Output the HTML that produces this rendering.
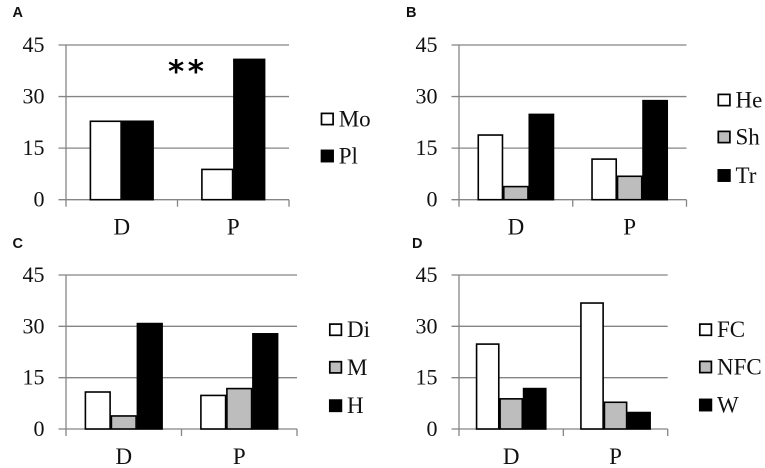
<!DOCTYPE html>
<html>
<head>
<meta charset="utf-8">
<title>Grouped bar charts</title>
<style>
html,body{margin:0;padding:0;background:#fff;}
svg{display:block;}
text{font-family:"Liberation Serif",serif;fill:#111;}
.panel-label{font-family:"Liberation Sans",sans-serif;font-weight:700;font-size:14.5px;}
.tick{font-size:22px;}
.cat{font-size:23px;}
.legend{font-size:23px;}
</style>
</head>
<body>
<svg id="chart" width="765" height="468" viewBox="0 0 765 468" xmlns="http://www.w3.org/2000/svg"></svg>
<script>
const categories = ['D', 'P'];
const yTicks = [0, 15, 30, 45];
const yMax = 45;

const seriesNamesA = ['Mo', 'Pl'];
const seriesValuesA = [[23, 9], [23, 41]];
const seriesColorsA = ['#fff', '#000'];

const seriesNamesB = ['He', 'Sh', 'Tr'];
const seriesValuesB = [[19, 12], [4, 7], [25, 29]];

const seriesNamesC = ['Di', 'M', 'H'];
const seriesValuesC = [[11, 10], [4, 12], [31, 28]];

const seriesNamesD = ['FC', 'NFC', 'W'];
const seriesValuesD = [[25, 37], [9, 8], [12, 5]];

const threeColors = ['#fff', '#bdbdbd', '#000'];

const svg = document.getElementById('chart');
const NS = 'http://www.w3.org/2000/svg';

function make(tag, attrs, text) {
  const el = document.createElementNS(NS, tag);
  for (const k in attrs) el.setAttribute(k, attrs[k]);
  if (text !== undefined) el.textContent = text;
  return el;
}

function drawPanel(p) {
  const g = make('g', {});
  
  
  svg.appendChild(g);

  const yScale = v => p.y0 + (p.yTop - p.y0) * v / yMax;
  const band = (p.right - p.left) / categories.length;
  const xCenter = i => p.left + band * (i + 0.5);

  const title = make('text', { x: p.titleX, y: p.titleY, class: 'panel-label' }, p.label);
  
  
  g.appendChild(title);

  yTicks.forEach(t => {
    const y = yScale(t);
    const line = make('line', { x1: p.left - 7.5, x2: p.right, y1: y, y2: y, stroke: '#858585', 'stroke-width': 1.3 });
    
    
    g.appendChild(line);

    const lab = make('text', { x: p.left - 21.5, y: y + 7, 'text-anchor': 'end', class: 'tick' }, String(t));
    
    
    g.appendChild(lab);
  });

  const yAxis = make('line', { x1: p.left, x2: p.left, y1: yScale(yMax), y2: p.y0 + 7, stroke: '#858585', 'stroke-width': 1.3 });
  
  
  g.appendChild(yAxis);

  for (let i = 1; i <= categories.length; i++) {
    const x = p.left + band * i;
    const tick = make('line', { x1: x, x2: x, y1: p.y0, y2: p.y0 + 7, stroke: '#858585', 'stroke-width': 1.3 });
    
    
    g.appendChild(tick);
  }

  categories.forEach((c, i) => {
    const lab = make('text', { x: xCenter(i), y: p.y0 + 35, 'text-anchor': 'middle', class: 'cat' }, c);
    
    
    g.appendChild(lab);

    const n = p.values.length;
    p.values.forEach((vals, s) => {
      const x = xCenter(i) - n * p.barW / 2 + s * p.barW;
      const y = yScale(vals[i]);
      const inset = 0.65;
      const bar = make('rect', {
        x: x + inset, y: y + inset,
        width: p.barW - inset * 2,
        height: Math.max(0, p.y0 - y - inset),
        fill: p.colors[s], stroke: '#000', 'stroke-width': 1.6
      });
      
      
      g.appendChild(bar);
    });
  });

  p.names.forEach((name, s) => {
    const cy = p.legendY[s];
    const sw = make('rect', { x: p.legendX + 0.8, y: cy - 5.6, width: 11.6, height: 11.2, fill: p.colors[s], stroke: '#000', 'stroke-width': 1.7 });
    
    
    g.appendChild(sw);

    const t = make('text', { x: p.legendX + 18, y: cy + 7.5, class: 'legend' }, name);
    
    
    g.appendChild(t);
  });
}

drawPanel({ label: 'A', titleX: 12.5, titleY: 17, left: 66, right: 289, yTop: 45, y0: 199.7, barW: 32,
  names: seriesNamesA, values: seriesValuesA, colors: seriesColorsA, legendX: 320.7, legendY: [119, 156] });
drawPanel({ label: 'B', titleX: 406, titleY: 17, left: 459, right: 686.5, yTop: 45, y0: 199.7, barW: 25.5,
  names: seriesNamesB, values: seriesValuesB, colors: threeColors, legendX: 717.5, legendY: [100, 137, 175.5] });
drawPanel({ label: 'C', titleX: 12.5, titleY: 248, left: 66, right: 297, yTop: 275, y0: 429, barW: 26,
  names: seriesNamesC, values: seriesValuesC, colors: threeColors, legendX: 329, legendY: [329.7, 367.3, 405.7] });
drawPanel({ label: 'D', titleX: 412, titleY: 248, left: 459, right: 667.7, yTop: 275, y0: 429, barW: 23.5,
  names: seriesNamesD, values: seriesValuesD, colors: threeColors, legendX: 699, legendY: [329.7, 367, 405] });

const stars = make('text', { x: 168, y: 82, style: 'font-family:"DejaVu Sans",sans-serif;font-weight:700;font-size:31px;letter-spacing:3.5px;fill:#000' }, '**');


svg.appendChild(stars);
</script>
</body>
</html>
